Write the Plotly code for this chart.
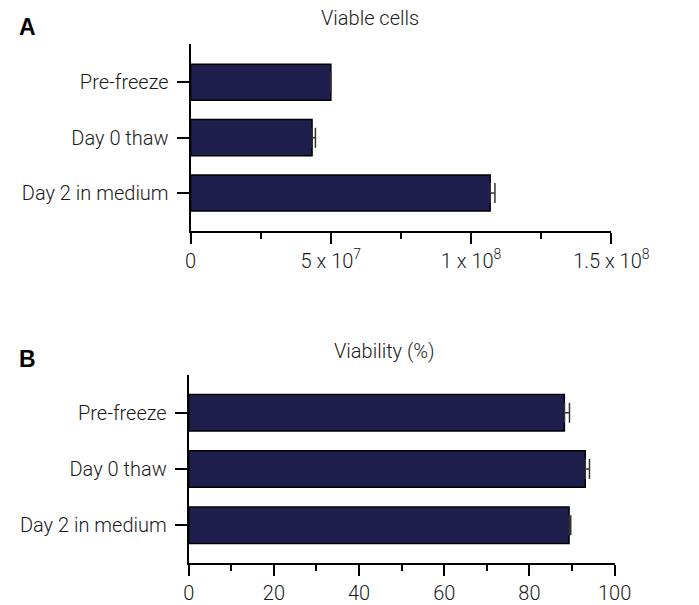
import plotly.graph_objects as go

categories = ["Pre-freeze", "Day 0 thaw", "Day 2 in medium"]

viable_cells = [5.0e7, 4.33e7, 1.068e8]
viable_cells_err = [0.0, 1.2e6, 1.7e6]

viability = [88.2, 93.1, 89.3]
viability_err = [1.2, 1.0, 0.4]

a_tickvals = [0, 5e7, 1e8, 1.5e8]
a_ticktext = ["0", "5 x 10<sup>7</sup>", "1 x 10<sup>8</sup>", "1.5 x 10<sup>8</sup>"]
b_tickvals = [0, 20, 40, 60, 80, 100]

W, H = 699, 605
BAR = "#1e1f4d"
FONT = dict(family="Roboto, Liberation Sans, Arial, sans-serif", size=20, color="#1a1a1a", weight=300)
BOLD = dict(family="Liberation Sans, Arial, sans-serif", size=23, color="black")

fig = go.Figure()

fig.add_trace(go.Bar(
    y=categories, x=viable_cells, orientation="h",
    marker=dict(color=BAR, line=dict(color="black", width=1.5)),
    error_x=dict(type="data", array=viable_cells_err, symmetric=False,
                 arrayminus=[0, 0, 0], color="#333333", thickness=1.5, width=10),
    xaxis="x", yaxis="y", showlegend=False,
))
fig.add_trace(go.Bar(
    y=categories, x=viability, orientation="h",
    marker=dict(color=BAR, line=dict(color="black", width=1.5)),
    error_x=dict(type="data", array=viability_err, symmetric=False,
                 arrayminus=[0, 0, 0], color="#333333", thickness=1.5, width=10),
    xaxis="x2", yaxis="y2", showlegend=False,
))

def px_x(a, b):
    return [a / W, b / W]

def px_y(top, bottom):
    return [(H - bottom) / H, (H - top) / H]

yaxis_common = dict(
    type="category", categoryorder="array", categoryarray=categories,
    range=[2.68, -0.68], showline=True, linecolor="black", linewidth=2,
    ticks="outside", ticklen=12, tickwidth=2, tickcolor="black",
    showgrid=False, zeroline=False, tickfont=FONT, ticklabelstandoff=4,
)
xaxis_common = dict(
    showline=True, linecolor="black", linewidth=2,
    ticks="outside", ticklen=11, tickwidth=2, tickcolor="black",
    showgrid=False, zeroline=False, tickfont=FONT,
)

fig.update_layout(
    width=W, height=H,
    margin=dict(l=0, r=0, t=0, b=0),
    paper_bgcolor="white", plot_bgcolor="white",
    bargap=0.35,
    font=FONT,
    xaxis=dict(domain=px_x(197, 646), range=[0, 1.5e8], anchor="y",
               tickmode="array", tickvals=a_tickvals, ticktext=a_ticktext,
               minor=dict(tickmode="array", tickvals=[2.5e7, 7.5e7, 1.25e8],
                          ticks="outside", ticklen=6, tickwidth=2, tickcolor="black"),
               **xaxis_common),
    yaxis=dict(domain=px_y(45, 233.5), anchor="x", **yaxis_common),
    xaxis2=dict(domain=px_x(195, 649.5), range=[0, 100], anchor="y2",
                tickmode="array", tickvals=b_tickvals,
                minor=dict(tickmode="array", tickvals=[10, 30, 50, 70, 90],
                           ticks="outside", ticklen=6, tickwidth=2, tickcolor="black"),
                **xaxis_common),
    yaxis2=dict(domain=px_y(379, 570), anchor="x2", **yaxis_common),
    annotations=[
        dict(text="Viable cells", x=388 / W, y=(H - 18) / H, xref="paper", yref="paper",
             showarrow=False, xanchor="center", yanchor="middle", font=FONT),
        dict(text="Viability (%)", x=404 / W, y=(H - 355) / H, xref="paper", yref="paper",
             showarrow=False, xanchor="center", yanchor="middle", font=FONT),
        dict(text="<b>A</b>", x=12 / W, y=(H - 27) / H, xref="paper", yref="paper",
             showarrow=False, xanchor="left", yanchor="middle", font=BOLD),
        dict(text="<b>B</b>", x=12 / W, y=(H - 363) / H, xref="paper", yref="paper",
             showarrow=False, xanchor="left", yanchor="middle", font=BOLD),
    ],
)

fig.write_html("out.html")
